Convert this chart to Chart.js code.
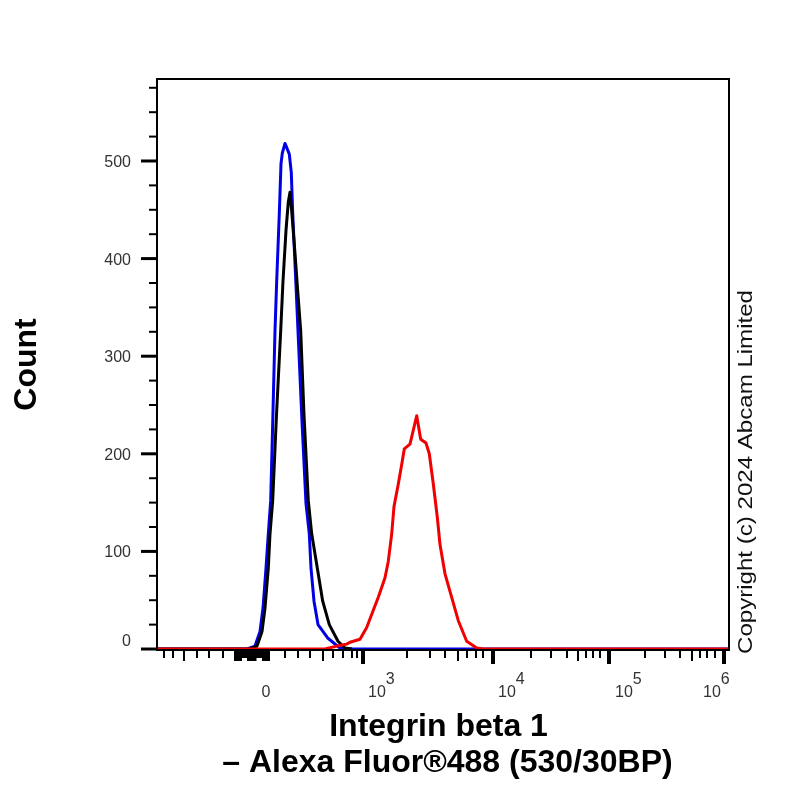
<!DOCTYPE html>
<html>
<head>
<meta charset="utf-8">
<script src="https://cdn.jsdelivr.net/npm/chart.js@4"></script>
<style>
html, body { margin: 0; padding: 0; background: #fff; }
#chart { display: block; }
</style>
</head>
<body>
<canvas id="chart" width="800" height="800"></canvas>
<script>
// x values are display channels along the biexponential axis (0-572), y values are counts
var blueChannel = [0, 90, 98, 103, 106, 109, 111.3, 113.7, 115.5, 118, 119.7, 122.3, 124, 125.3, 128, 132.3, 134.3, 135.7, 138, 141, 145, 149, 152.3, 154, 157, 161, 171, 183, 193, 572];
var blueCount = [0, 0, 3, 18, 42, 83, 118, 152, 223, 326, 377, 446, 497, 508, 518, 507, 488, 447, 395, 326, 233, 149, 118, 83, 49, 25, 11, 1, 0, 0];
var blackChannel = [0, 92, 100, 105, 108, 111.3, 113, 115.7, 119.5, 123.7, 126, 129, 131.3, 133, 134.7, 138, 140.7, 143.7, 147, 151.3, 154.7, 160.3, 165.7, 172.3, 181, 188, 195];
var blackCount = [0, 0, 3, 18, 42, 83, 118, 152, 240, 326, 377, 429, 458, 468, 449, 405, 367, 326, 240, 152, 118, 83, 49, 25, 8, 1, 0];
var redChannel = [0, 168, 179.7, 189.7, 193, 203, 209.7, 216, 221.3, 228, 231.3, 234.7, 237, 241.3, 244.7, 247.3, 253, 259.7, 263.7, 269, 272.3, 276.3, 280.3, 283, 288, 294.7, 301.3, 309.7, 319.7, 326, 572];
var redCount = [0, 0, 3, 5, 7, 10, 22, 39, 53, 73, 90, 118, 146, 169, 189, 205, 210, 239, 215, 211, 200, 169, 135, 107, 77, 53, 29, 8, 1, 0, 0];

var yMajorTicks = [0, 100, 200, 300, 400, 500];
var yMinorTicks = [25, 50, 75, 125, 150, 175, 225, 250, 275, 325, 350, 375, 425, 450, 475, 525, 550, 575];

var xMajorTicks = [206, 336, 452, 567];
var xMidTicks = [27, 78, 79.5, 81, 82.5, 84, 91, 92.5, 94, 95.5, 97, 98.5, 106, 107.5, 109, 110.5, 112, 166, 301, 421, 535];
var xMinorTicks = [7, 16, 40, 52, 66, 85.5, 87, 88.5, 90, 100, 101.5, 103, 104.5, 128, 141, 153, 176, 186, 195, 200, 250, 273, 288, 310, 319, 326, 374, 394, 410, 429, 436, 443, 488, 508, 523, 543, 550, 558];
var xTickBases = ['0', '10', '10', '10', '10'];
var xTickPowers = ['', '3', '4', '5', '6'];
var xTickChannels = [109, 206, 336, 452, 567];

var xAxisLines = ['Integrin beta 1 ', ' \u2013 Alexa Fluor\u00ae488 (530/30BP)'];
var yAxisTitle = 'Count';
var copyright = 'Copyright (c) 2024 Abcam Limited';

function makePoints(xs, ys){
    return xs.map(function(x, i){
        return {x: x, y: ys[i]};
    });
}

function drawTicks(ctx, scale, values, horizontal, length, width){
    ctx.lineWidth = width;
    values.forEach(function(v){
        var pos = scale.getPixelForValue(v);
        ctx.beginPath();
        if(horizontal){
            ctx.moveTo(pos, scale.top);
            ctx.lineTo(pos, scale.top + length);
        } else {
            ctx.moveTo(scale.right, pos);
            ctx.lineTo(scale.right - length, pos);
        }
        ctx.stroke();
    });
}

function drawFitted(ctx, text, cx, cy, rotation, font, width){
    ctx.save();
    ctx.translate(cx, cy);
    ctx.rotate(rotation);
    ctx.font = font;
    ctx.textAlign = 'center';
    ctx.textBaseline = 'middle';
    ctx.scale(width / ctx.measureText(text).width, 1);
    ctx.fillText(text, 0, 0);
    ctx.restore();
}

var flowAxes = {
    id: 'flowAxes',
    afterDraw: function(chart){
        var ctx = chart.ctx;
        var area = chart.chartArea;
        var x = chart.scales.x;
        var y = chart.scales.y;
        ctx.save();
        ctx.strokeStyle = '#000';
        ctx.lineWidth = 2;
        ctx.strokeRect(area.left, area.top, area.right - area.left, area.bottom - area.top);
        drawTicks(ctx, y, yMajorTicks, false, 16, 3);
        drawTicks(ctx, y, yMinorTicks, false, 8, 2);
        drawTicks(ctx, x, xMajorTicks, true, 14, 4);
        drawTicks(ctx, x, xMidTicks, true, 11, 2);
        drawTicks(ctx, x, xMinorTicks, true, 8, 2);

        ctx.fillStyle = '#333';
        ctx.textBaseline = 'middle';
        ctx.textAlign = 'left';
        ctx.font = '16px "Liberation Sans"';
        var shifts = [-4.5, 5, 5, 6, -21];
        xTickChannels.forEach(function(v, i){
            var left = x.getPixelForValue(v) + shifts[i];
            ctx.fillText(xTickBases[i], left, 693);
            ctx.fillText(xTickPowers[i], left + ctx.measureText(xTickBases[i]).width, 680);
        });

        ctx.fillStyle = '#111';
        drawFitted(ctx, copyright, 746, 472, -Math.PI / 2, '20px "Liberation Sans"', 364);
        ctx.restore();
    }
};

new Chart(document.getElementById('chart'), {
    type: 'line',
    data: {
        // first dataset is painted last
        datasets: [
            {label: 'Integrin beta 1', data: makePoints(redChannel, redCount), borderColor: '#f00000'},
            {label: 'Unstained', data: makePoints(blackChannel, blackCount), borderColor: '#000'},
            {label: 'Isotype control', data: makePoints(blueChannel, blueCount), borderColor: '#0000e6'}
        ]
    },
    options: {
        responsive: false,
        animation: false,
        parsing: false,
        layout: {padding: {top: 79, right: 71, left: 0, bottom: 0}},
        elements: {
            point: {radius: 0},
            line: {borderWidth: 3, tension: 0, borderJoinStyle: 'round'}
        },
        datasets: {line: {clip: false}},
        plugins: {legend: {display: false}, tooltip: {enabled: false}},
        scales: {
            x: {
                type: 'linear',
                min: 0,
                max: 572,
                afterFit: function(scale){ scale.height = 150; },
                grid: {display: false},
                border: {display: false},
                ticks: {display: false},
                title: {
                    display: true,
                    text: xAxisLines,
                    color: '#000',
                    padding: {top: 0, bottom: 19},
                    font: {family: '"Liberation Sans"', size: 32, weight: 'bold', lineHeight: 1.125}
                }
            },
            y: {
                type: 'linear',
                min: -1,
                max: 584,
                afterFit: function(scale){ scale.width = 157; },
                afterBuildTicks: function(scale){
                    scale.ticks = yMajorTicks.map(function(v){ return {value: v}; });
                },
                grid: {display: false, tickLength: 16},
                border: {display: false},
                ticks: {
                    color: '#333',
                    padding: 10,
                    font: {family: '"Liberation Sans"', size: 16, lineHeight: '3px'},
                    // blank lines nudge the labels off the tick, as on the cytometer export
                    callback: function(v){ return v === 0 ? ['0', '', '', '', '', ''] : ['', String(v)]; }
                },
                title: {
                    display: true,
                    text: yAxisTitle,
                    color: '#000',
                    padding: {top: 8, bottom: 0},
                    font: {family: '"Liberation Sans"', size: 32, weight: 'bold'}
                }
            }
        }
    },
    plugins: [flowAxes]
});
</script>
</body>
</html>
